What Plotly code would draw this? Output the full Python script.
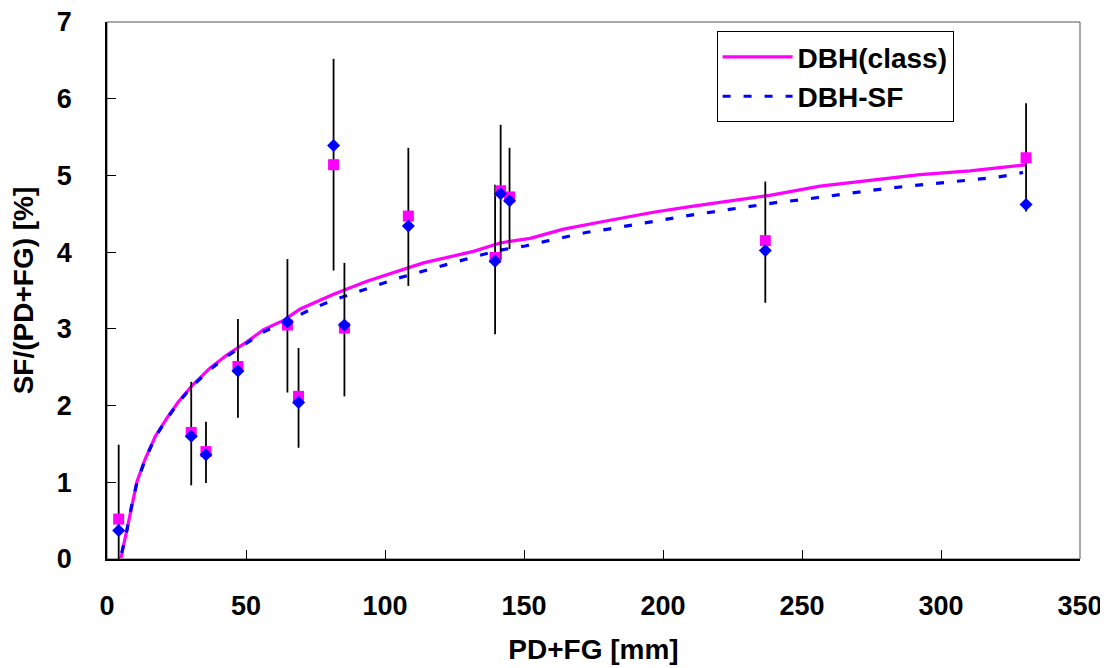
import plotly.graph_objects as go

# Measured points
pdfg = [4.2, 30.3, 35.6, 47.1, 64.9, 68.9, 81.5, 85.4, 108.4, 139.6, 141.6, 144.8, 236.8, 330.6]
sf_class = [0.52, 1.65, 1.40, 2.51, 3.05, 2.12, 5.14, 3.01, 4.47, 3.93, 4.80, 4.72, 4.15, 5.23]
sf_dbhsf = [0.37, 1.60, 1.36, 2.45, 3.09, 2.04, 5.39, 3.05, 4.34, 3.88, 4.76, 4.67, 4.02, 4.62]
err_top = [1.49, 2.31, 1.79, 3.13, 3.91, 2.75, 6.52, 3.86, 5.36, 4.88, 5.66, 5.36, 4.92, 5.94]
err_bottom = [-0.07, 0.96, 0.99, 1.84, 2.17, 1.45, 3.76, 2.12, 3.56, 2.93, 3.90, 4.04, 3.34, 4.53]

# Fitted curves
class_curve_x = [5.0, 7.2, 9.0, 10.8, 13.8, 17.4, 21.6, 25.7, 30.6, 37.1, 43.1, 50.3, 56.3, 63.5,
                 69.5, 81.5, 93.5, 103.0, 113.8, 131.8, 141.4, 152.2, 164.2, 178.5, 196.5, 210.9,
                 226.5, 238.4, 256.5, 274.4, 292.4, 310.4, 330.8]
class_curve_y = [0.01, 0.38, 0.73, 1.01, 1.31, 1.60, 1.84, 2.05, 2.26, 2.49, 2.66, 2.83, 2.99, 3.11,
                 3.26, 3.45, 3.62, 3.73, 3.86, 4.01, 4.12, 4.18, 4.30, 4.40, 4.52, 4.60,
                 4.68, 4.74, 4.86, 4.93, 5.01, 5.06, 5.14]
sf_curve_x = [5.3, 7.2, 9.0, 10.8, 13.8, 17.4, 21.6, 25.7, 30.6, 37.1, 43.1, 50.3, 56.3, 64.7,
              73.1, 80.3, 88.1, 95.9, 103.7, 111.5, 119.2, 127.0, 134.2, 142.0, 150.4, 157.6,
              165.0, 172.8, 180.3, 188.1, 195.7, 203.4, 211.2, 218.9, 226.5, 233.9, 241.5,
              249.3, 257.1, 264.8, 272.6, 280.2, 288.0, 295.8, 303.2, 310.8, 318.5, 326.0, 329.5]
sf_curve_y = [0.08, 0.38, 0.72, 1.00, 1.30, 1.59, 1.83, 2.04, 2.25, 2.47, 2.64, 2.81, 2.96, 3.10,
              3.25, 3.36, 3.46, 3.56, 3.65, 3.73, 3.81, 3.89, 3.96, 4.03, 4.08, 4.14,
              4.20, 4.26, 4.30, 4.35, 4.40, 4.44, 4.49, 4.53, 4.57, 4.61, 4.65,
              4.68, 4.72, 4.76, 4.80, 4.83, 4.86, 4.89, 4.92, 4.94, 4.97, 5.01, 5.04]

x_ticks = [0, 50, 100, 150, 200, 250, 300, 350]
y_ticks = [0, 1, 2, 3, 4, 5, 6, 7]

PINK = "#FF00FF"
BLUE = "#0000FF"
FONT = "Liberation Sans, Arial, sans-serif"

err_plus = [t - v for t, v in zip(err_top, sf_class)]
err_minus = [v - b for v, b in zip(sf_class, err_bottom)]

fig = go.Figure()
fig.add_trace(go.Scatter(x=class_curve_x, y=class_curve_y, mode="lines", name="DBH(class)",
                         line=dict(color=PINK, width=3.2), legendgroup="a"))
fig.add_trace(go.Scatter(x=sf_curve_x, y=sf_curve_y, mode="lines", name="DBH-SF",
                         line=dict(color=BLUE, width=3.2, dash="8px,13px"), legendgroup="b"))
fig.add_trace(go.Scatter(x=pdfg, y=sf_class, mode="markers", showlegend=False, cliponaxis=False,
                         marker=dict(symbol="square", size=11, color=PINK),
                         error_y=dict(type="data", array=err_plus, arrayminus=err_minus,
                                      color="black", thickness=1.8, width=0)))
fig.add_trace(go.Scatter(x=pdfg, y=sf_dbhsf, mode="markers", showlegend=False, cliponaxis=False,
                         marker=dict(symbol="diamond", size=10, color=BLUE)))

axis_common = dict(showline=True, linecolor="black", linewidth=1.5, mirror=False,
                   ticks="inside", ticklen=9, tickwidth=1, tickcolor="black",
                   showgrid=False, zeroline=False, ticklabeloverflow="allow",
                   tickfont=dict(family=FONT, size=27, color="black", weight="bold"))

fig.update_xaxes(range=[0, 350], tickvals=x_ticks, ticklabelstandoff=22,
                 title=dict(text="PD+FG [mm]", standoff=19,
                            font=dict(family=FONT, size=28, color="black", weight="bold")),
                 **axis_common)
fig.update_yaxes(range=[0, 7], tickvals=y_ticks, ticklabelstandoff=28,
                 title=dict(text="SF/(PD+FG) [%]", standoff=15,
                            font=dict(family=FONT, size=28, color="black", weight="bold")),
                 **axis_common)

fig.add_shape(type="rect", xref="paper", yref="paper", x0=0, x1=1, y0=0, y1=1,
              line=dict(color="#555555", width=1), layer="below")

# the page body adds an 8px offset, so the figure is 8px smaller than the window
fig.update_layout(
    width=1100, height=660,
    margin=dict(l=99, r=28, t=14, b=109, autoexpand=False),
    paper_bgcolor="white", plot_bgcolor="white",
    legend=dict(x=0.6265, y=0.983, xanchor="left", yanchor="top",
                bordercolor="black", borderwidth=1, bgcolor="white",
                font=dict(family=FONT, size=28, color="black", weight="bold"),
                itemwidth=70, tracegroupgap=0),
)

fig.write_html("out.html")
